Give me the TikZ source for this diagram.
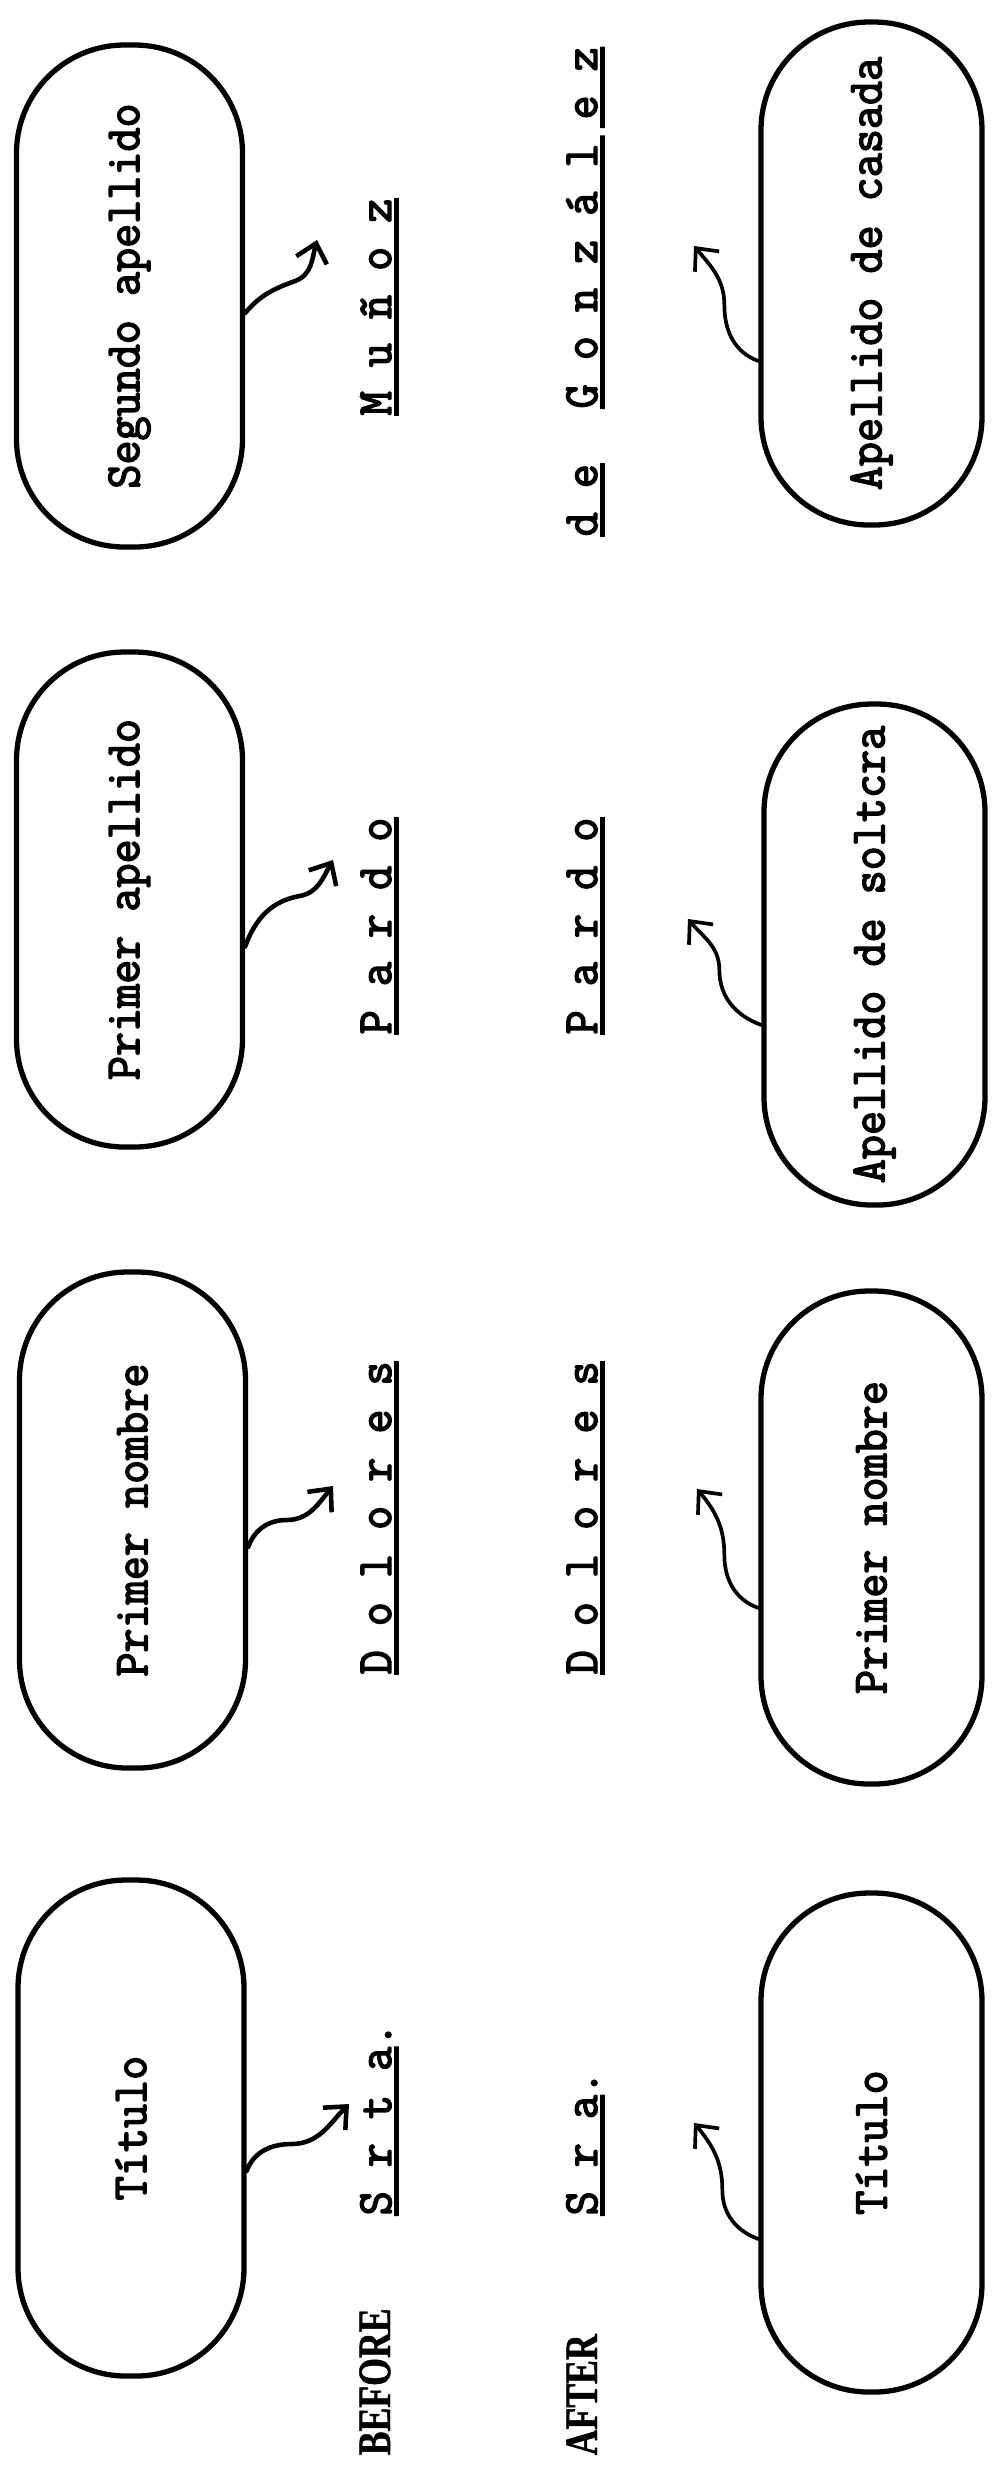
\documentclass[tikz,border=0pt]{standalone}
\usepackage{fontspec}
\usetikzlibrary{arrows.meta,calc}
% typewriter face: slab-serif monospace, slightly narrowed and inked
\newfontfamily\typewriter[FakeStretch=0.95,FakeBold=3]{Latin Modern Mono}
\newfontfamily\labelfont[FakeStretch=0.77,FakeBold=1]{Liberation Serif}

\begin{document}
\begin{tikzpicture}[
  tw/.style={font=\typewriter\fontsize{14pt}{16pt}\selectfont},
  oval/.style={tw, draw, line width=1.5pt, rectangle, rounded corners=1.08cm,
    rotate=90, inner sep=0pt},
  upper/.style={oval, minimum height=2.26cm},
  lower/.style={oval, minimum height=2.21cm},
  word/.style={tw, rotate=90, anchor=base west, inner sep=0pt},
  tag/.style={rotate=90, anchor=base west, inner sep=0pt,
    font=\labelfont\bfseries\fontsize{13.2pt}{14pt}\selectfont},
  uline/.style={line width=1.3pt},
  pointer/.style={line width=1.3pt, line cap=round,
    -{Straight Barb[length=5pt,width=9pt]}},
  thinpointer/.style={pointer, line width=1.05pt},
]
\useasboundingbox (0,0) rectangle (10.03,-24.90);

% name parts, before marriage
\node[upper, minimum width=4.96cm] (t1) at (1.31,-21.28) {Título};
\node[upper, minimum width=4.96cm] (t2) at (1.325,-15.20) {Primer nombre};
\node[upper, minimum width=4.95cm] (t3) at (1.295,-8.995) {Primer apellido};
\node[upper, minimum width=5.02cm] (t4) at (1.295,-2.96) {Segundo apellido};

% name parts, after marriage
\node[lower, minimum width=4.99cm] (b1) at (8.715,-21.425) {Título};
\node[lower, minimum width=4.93cm] (b2) at (8.715,-15.375) {Primer nombre};
\node[lower, minimum width=5.01cm] (b3) at (8.745,-9.545) {Apellido de soltcra};
\node[lower, minimum width=5.03cm] (b4) at (8.715,-2.735) {Apellido de casada};

% row captions
\node[tag] (before) at (3.90,-24.56) {BEFORE};
\node[tag] (after) at (5.97,-24.56) {AFTER};

% the full name, before
\node[word] (s1) at (3.91,-22.16) {S r t a.};
\node[word] (d1) at (3.91,-16.75) {D o l o r e s};
\node[word] (p1) at (3.91,-10.35) {P a r d o};
\node[word] (m1) at (3.91,-4.16) {M u ñ o z};

% the full name, after
\node[word] (s2) at (5.97,-22.16) {S r a.};
\node[word] (d2) at (5.97,-16.75) {D o l o r e s};
\node[word] (p2) at (5.97,-10.35) {P a r d o};
\node[word] (de) at (5.97,-5.37) {d e};
\node[word] (g2) at (5.97,-4.09) {G o n z á l e z};

% typed underscores
\draw[uline] ([xshift=0.055cm]s1.base west) -- ([xshift=0.055cm]$(s1.base west)!0.875!(s1.base east)$);
\draw[uline] ([xshift=0.055cm]d1.base west) -- ([xshift=0.055cm]d1.base east);
\draw[uline] ([xshift=0.055cm]p1.base west) -- ([xshift=0.055cm]p1.base east);
\draw[uline] ([xshift=0.055cm]m1.base west) -- ([xshift=0.055cm]m1.base east);
\draw[uline] ([xshift=0.055cm]s2.base west) -- ([xshift=0.055cm]$(s2.base west)!0.833!(s2.base east)$);
\draw[uline] ([xshift=0.055cm]d2.base west) -- ([xshift=0.055cm]d2.base east);
\draw[uline] ([xshift=0.055cm]p2.base west) -- ([xshift=0.055cm]p2.base east);
\draw[uline] ([xshift=0.055cm]de.base west) -- ([xshift=0.055cm]de.base east);
\draw[uline] ([xshift=0.055cm]g2.base west) -- ([xshift=0.055cm]$(g2.base west)!0.755!(g2.base east)$);
\draw[uline] ([xshift=0.055cm]$(g2.base west)!0.775!(g2.base east)$) -- ([xshift=0.055cm]g2.base east);

% arrow tips
\coordinate (ta1) at (3.49,-21.04);
\coordinate (ta2) at (3.33,-14.86);
\coordinate (ta3) at (3.33,-8.60);
\coordinate (ta4) at (3.17,-2.40);
\coordinate (tb1) at (6.94,-21.23);
\coordinate (tb2) at (6.97,-14.89);
\coordinate (tb3) at (6.88,-9.19);
\coordinate (tb4) at (6.94,-2.46);

% hand-drawn pointers, upper row
\draw[pointer] ($(t1.south)+(0,-0.43)$) to[out=70,in=180] ++(0.45,0.27) to[out=0,in=225] (ta1);
\draw[pointer] ($(t2.south)+(0,-0.27)$) to[out=70,in=180] ++(0.385,0.27) to[out=0,in=230] (ta2);
\draw[pointer] ($(t3.south)+(0,-0.47)$) to[out=70,in=190] ++(0.545,0.505) to[out=10,in=240] (ta3);
\draw[pointer] ($(t4.south)+(0,-0.17)$) to[out=50,in=200] ++(0.50,0.32) to[out=20,in=255] (ta4);

% hand-drawn pointers, lower row
\draw[thinpointer] ($(b1.north)+(0,-0.965)$) to[out=160,in=-90] ++(-0.36,0.49) to[out=90,in=-50] (tb1);
\draw[thinpointer] ($(b2.north)+(0,-0.705)$) to[out=160,in=-90] ++(-0.34,0.53) to[out=90,in=-50] (tb2);
\draw[thinpointer] ($(b3.north)+(0,-0.705)$) to[out=160,in=-90] ++(-0.42,0.55) to[out=90,in=-50] (tb3);
\draw[thinpointer] ($(b4.north)+(0,-0.875)$) to[out=160,in=-90] ++(-0.34,0.56) to[out=90,in=-50] (tb4);
\end{tikzpicture}
\end{document}
